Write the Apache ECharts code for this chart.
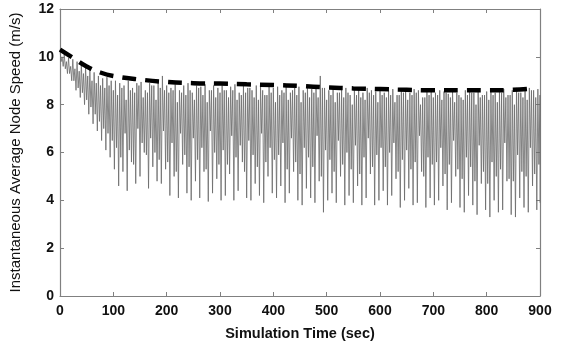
<!DOCTYPE html>
<html>
<head>
<meta charset="utf-8">
<script src="https://cdn.jsdelivr.net/npm/echarts@6/dist/echarts.min.js"></script>
<style>
  html, body { margin: 0; padding: 0; background: #fff; }
  #main { width: 569px; height: 346px; }
</style>
</head>
<body>
<div id="main"></div>
<script>
// speed sampled every 2 s; each 8 s cycle: peak, dip, rebound, trough
const sampleStep = 2;
const peaks = [
  10.3, 10.1, 9.95, 9.9, 9.8, 9.7, 9.6, 9.45, 9.35, 9.2, 9.1, 9.15, 9.0,
  9.0, 8.9, 8.8, 9.0, 8.7, 8.9, 8.95, 8.6, 8.9, 8.8, 9.0, 9.2,
  8.8, 8.7, 8.85, 8.6, 8.8, 8.9, 8.5, 8.8, 8.75, 8.85, 8.6, 8.8, 8.7,
  8.8, 8.6, 8.75, 8.85, 8.5, 8.8, 8.7, 8.6, 8.8, 8.75, 8.4, 8.8, 8.7,
  8.75, 8.6, 8.8, 8.5, 8.7, 8.75, 8.6, 8.8, 8.65, 8.7, 9.2, 8.7,
  8.6, 8.7, 8.5, 8.65, 8.7, 8.4, 8.6, 8.65, 8.5, 8.7, 8.6, 8.55, 8.65,
  8.5, 8.6, 8.65, 8.4, 8.6, 8.55, 8.5, 8.65, 8.6, 8.3, 8.55, 8.6,
  8.5, 8.6, 8.55, 8.45, 8.6, 8.5, 8.3, 8.6, 8.55, 8.5, 8.6, 8.4, 8.55,
  8.6, 8.5, 8.55, 8.65, 8.4, 8.6, 8.7, 8.5, 8.65, 8.7, 8.6, 8.65
];
const dips = [
  9.8, 9.5, 9.3, 9.0, 8.7, 8.5, 8.2, 7.9, 7.6, 7.3, 7.0, 6.8, 6.5,
  6.2, 5.8, 6.8, 6.1, 5.5, 7.0, 6.4, 5.9, 6.6, 6.0, 5.7, 6.9,
  5.6, 6.4, 5.2, 6.8, 5.9, 5.4, 6.6, 5.7, 6.2, 5.3, 6.9, 6.0, 5.5,
  6.1, 5.5, 6.7, 5.8, 6.3, 5.2, 6.5, 5.9, 5.4, 6.8, 5.6, 6.2, 5.7,
  5.9, 6.4, 5.3, 6.6, 5.6, 5.1, 6.2, 5.8, 5.4, 6.7, 5.0, 6.1,
  5.7, 5.2, 6.5, 5.5, 6.0, 5.3, 6.3, 5.1, 5.8, 6.6, 5.4, 5.9, 6.2,
  5.4, 6.0, 6.4, 5.2, 5.7, 6.1, 5.3, 5.6, 6.7, 5.0, 5.8, 5.5,
  5.6, 6.2, 5.1, 5.5, 6.5, 5.3, 4.9, 5.8, 5.4, 4.8, 6.3, 5.2, 4.7,
  5.6, 5.0, 5.3, 6.4, 4.9, 4.8, 5.9, 5.2, 5.0, 6.2, 5.1, 5.5
];
const rebounds = [
  10.0, 9.8, 9.6, 9.5, 9.4, 9.3, 9.2, 9.0, 8.9, 8.8, 8.7, 8.8, 8.6,
  8.4, 8.7, 8.2, 8.6, 8.5, 8.8, 8.3, 8.5, 8.8, 8.2, 8.7, 8.6,
  8.5, 8.6, 8.1, 8.5, 8.4, 8.6, 8.2, 8.7, 8.4, 8.1, 8.6, 8.3, 8.5,
  8.6, 8.3, 8.6, 8.2, 8.4, 8.5, 8.7, 8.3, 8.2, 8.6, 8.4, 8.5, 8.1,
  8.4, 8.5, 8.2, 8.6, 8.4, 8.1, 8.5, 8.3, 8.5, 8.3, 8.7, 8.2,
  8.4, 8.1, 8.5, 8.3, 8.5, 8.0, 8.4, 8.3, 8.2, 8.5, 8.4, 8.1, 8.4,
  8.3, 8.4, 8.1, 8.4, 8.5, 8.2, 8.4, 8.5, 8.0, 8.3, 8.4, 8.3,
  8.4, 8.2, 8.5, 8.3, 8.1, 8.4, 8.2, 8.4, 8.5, 8.0, 8.3, 8.4, 8.2,
  8.4, 8.1, 8.5, 8.3, 8.4, 8.0, 8.5, 8.3, 8.2, 8.6, 8.3, 8.4
];
const troughs = [
  9.6, 9.3, 9.0, 8.6, 8.3, 8.0, 7.6, 7.2, 6.9, 6.5, 6.1, 5.8, 5.3,
  4.6, 5.2, 4.4, 5.6, 4.7, 5.0, 6.0, 4.5, 5.4, 4.8, 4.7, 5.3,
  4.2, 5.0, 4.1, 5.5, 4.3, 4.0, 4.8, 4.1, 5.2, 3.95, 4.3, 4.9, 4.0,
  4.2, 5.1, 4.0, 4.4, 5.6, 4.1, 4.0, 4.7, 4.2, 3.9, 5.0, 4.3, 4.1,
  4.6, 3.9, 4.3, 5.2, 4.0, 3.8, 4.5, 4.1, 3.9, 4.8, 3.5, 4.0,
  4.3, 3.9, 5.0, 3.8, 4.2, 3.9, 4.6, 3.8, 4.1, 5.1, 3.8, 4.0, 4.4,
  3.8, 4.2, 4.9, 3.7, 4.0, 4.5, 3.8, 3.9, 5.2, 3.7, 4.1, 3.8,
  4.0, 4.6, 3.6, 3.9, 5.0, 3.7, 3.5, 4.2, 3.8, 3.4, 4.7, 3.6, 3.3,
  4.0, 3.5, 3.6, 4.8, 3.4, 3.3, 4.1, 3.7, 3.5, 4.6, 3.6, 3.9
];

// running average (dashed curve)
const avgTimes = [0, 25, 50, 75, 100, 150, 200, 250, 300, 350, 400, 450, 500, 550, 600, 650, 700, 750, 800, 850, 885];
const avgSpeed = [10.3, 9.95, 9.6, 9.35, 9.2, 9.05, 8.95, 8.9, 8.88, 8.85, 8.82, 8.78, 8.72, 8.68, 8.65, 8.62, 8.6, 8.6, 8.6, 8.62, 8.68];

const xTicks = [0, 100, 200, 300, 400, 500, 600, 700, 800, 900];
const yTicks = [0, 2, 4, 6, 8, 10, 12];

const speedData = [];
for (let k = 0; k < peaks.length; k++) {
  const t0 = 4 * k * sampleStep;
  speedData.push([t0, peaks[k]]);
  speedData.push([t0 + sampleStep, dips[k]]);
  speedData.push([t0 + 2 * sampleStep, rebounds[k]]);
  speedData.push([Math.min(t0 + 3 * sampleStep, 900), troughs[k]]);
}
const avgData = avgTimes.map((t, i) => [t, avgSpeed[i]]);

const font = 'Liberation Sans, Arial, Helvetica, sans-serif';
const frame = { show: true, onZero: false, lineStyle: { color: '#808080', width: 1.2 } };
const ticksIn = { show: true, inside: true, length: 4, lineStyle: { color: '#808080' } };

const chart = echarts.init(document.getElementById('main'), null, { renderer: 'canvas' });
chart.setOption({
  animation: false,
  backgroundColor: '#fff',
  grid: { left: 58, right: 29, top: 9, bottom: 50 },
  xAxis: [{
    type: 'value', min: 0, max: 900, interval: 100,
    axisLine: frame, axisTick: ticksIn, splitLine: { show: false },
    axisLabel: { color: '#111', fontFamily: font, fontSize: 14, fontWeight: 'bold', margin: 8,
      formatter: v => xTicks.includes(v) ? String(v) : '' },
    name: 'Simulation Time (sec)', nameLocation: 'middle', nameGap: 30,
    nameTextStyle: { color: '#111', fontFamily: font, fontSize: 14.5, fontWeight: 'bold' }
  }, {
    type: 'value', position: 'top', min: 0, max: 900, interval: 100,
    axisLine: frame, axisTick: ticksIn, axisLabel: { show: false }, splitLine: { show: false }
  }],
  yAxis: [{
    type: 'value', min: 0, max: 12, interval: 2,
    axisLine: frame, axisTick: ticksIn, splitLine: { show: false },
    axisLabel: { color: '#111', fontFamily: font, fontSize: 14, fontWeight: 'bold', margin: 6,
      formatter: v => yTicks.includes(v) ? String(v) : '' },
    name: 'Instantaneous Average Node Speed (m/s)', nameLocation: 'middle', nameGap: 37,
    nameTextStyle: { color: '#111', fontFamily: font, fontSize: 15 }
  }, {
    type: 'value', position: 'right', min: 0, max: 12, interval: 2,
    axisLine: frame, axisTick: ticksIn, axisLabel: { show: false }, splitLine: { show: false }
  }],
  series: [{
    type: 'line', data: speedData, showSymbol: false, silent: true,
    lineStyle: { color: '#6a6a6a', width: 0.8 }
  }, {
    type: 'line', data: avgData, showSymbol: false, silent: true, smooth: true,
    lineStyle: { color: '#000', width: 4.5, type: [14, 9], cap: 'butt' }
  }]
});
</script>
</body>
</html>
